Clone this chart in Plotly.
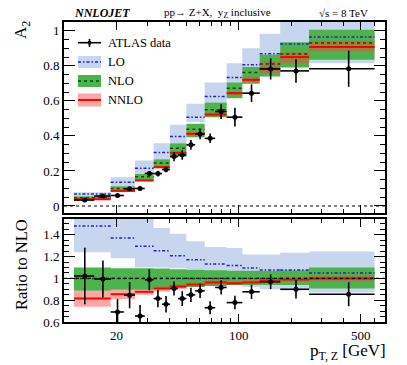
import plotly.graph_objects as go

# theory bins (GeV)
theory_edges = [11.4, 18.5, 25.5, 32.6, 40.4, 50.2, 63.9, 85.4, 105, 132, 173, 253, 600]

# upper panel: A2 predictions
lo_c = [0.069, 0.135, 0.215, 0.305, 0.396, 0.507, 0.625, 0.733, 0.806, 0.869, 0.924, 0.964]
lo_dn = [0.055, 0.110, 0.183, 0.267, 0.360, 0.480, 0.590, 0.700, 0.730, 0.760, 0.800, 0.815]
lo_up = [0.078, 0.164, 0.259, 0.358, 0.463, 0.583, 0.705, 0.815, 0.900, 0.983, 1.100, 1.120]
nlo_c = [0.047, 0.100, 0.167, 0.245, 0.330, 0.438, 0.549, 0.672, 0.762, 0.810, 0.867, 0.930]
nlo_dn = [0.037, 0.088, 0.148, 0.215, 0.282, 0.392, 0.507, 0.615, 0.697, 0.739, 0.790, 0.834]
nlo_up = [0.055, 0.112, 0.183, 0.267, 0.358, 0.469, 0.590, 0.705, 0.793, 0.863, 0.935, 1.006]
nnlo_c = [0.038, 0.086, 0.146, 0.222, 0.303, 0.412, 0.522, 0.644, 0.720, 0.783, 0.850, 0.907]
nnlo_dn = [0.034, 0.081, 0.140, 0.215, 0.295, 0.402, 0.512, 0.630, 0.705, 0.758, 0.815, 0.882]
nnlo_up = [0.041, 0.089, 0.150, 0.228, 0.312, 0.422, 0.532, 0.655, 0.738, 0.825, 0.878, 0.943]

# lower panel: ratio to NLO
r_lo_c = [1.48, 1.37, 1.296, 1.253, 1.207, 1.17, 1.133, 1.118, 1.096, 1.078, 1.078, 1.05]
r_lo_dn = [1.24, 1.185, 1.10, 1.10, 1.093, 1.08, 1.02, 0.95, 0.92, 0.90, 0.90, 0.87]
r_lo_up = [1.70, 1.70, 1.70, 1.463, 1.41, 1.34, 1.287, 1.28, 1.22, 1.22, 1.235, 1.247]
r_nlo_dn = [0.886, 0.895, 0.895, 0.905, 0.915, 0.92, 0.93, 0.94, 0.94, 0.94, 0.94, 0.907]
r_nlo_up = [1.10, 1.093, 1.093, 1.09, 1.085, 1.08, 1.075, 1.07, 1.07, 1.07, 1.075, 1.10]
r_nnlo_c = [0.815, 0.855, 0.877, 0.907, 0.926, 0.944, 0.963, 0.955, 0.963, 0.98, 0.99, 1.0]
r_nnlo_dn = [0.74, 0.81, 0.85, 0.88, 0.90, 0.925, 0.945, 0.94, 0.95, 0.96, 0.97, 0.97]
r_nnlo_up = [0.886, 0.895, 0.90, 0.925, 0.945, 0.96, 0.98, 0.975, 0.985, 1.0, 1.015, 1.03]

# ATLAS data
data_edges = [11.4, 14.9, 18.5, 22, 25.5, 29, 32.6, 36.4, 40.4, 44.9, 50.2, 56.4,
              63.9, 73.4, 85.4, 105, 132, 173, 253, 600]
data_a2 = [0.034, 0.057, 0.060, 0.098, 0.100, 0.186, 0.185, 0.208, 0.282, 0.291,
           0.349, 0.411, 0.386, 0.539, 0.507, 0.644, 0.782, 0.771, 0.783]
data_a2_err = [0.006, 0.006, 0.008, 0.009, 0.010, 0.014, 0.016, 0.016, 0.026, 0.027,
               0.028, 0.030, 0.027, 0.042, 0.053, 0.050, 0.060, 0.067, 0.103]
data_ratio = [1.022, 0.994, 0.692, 0.846, 0.655, 0.988, 0.815, 0.763, 0.907, 0.815,
              0.849, 0.886, 0.731, 0.917, 0.778, 0.877, 0.969, 0.90, 0.855]
data_ratio_err = [0.26, 0.17, 0.12, 0.12, 0.10, 0.096, 0.08, 0.075, 0.065, 0.068,
                  0.066, 0.065, 0.06, 0.065, 0.062, 0.065, 0.067, 0.085, 0.11]

LO_FILL = "#c7d5ee"
NLO_FILL = "#4db44d"
NNLO_FILL = "rgba(255,60,60,0.45)"
LO_LINE = "#2323b8"
NLO_LINE = "#0a4a0a"
NNLO_LINE = "#ff0000"
LO_DASH = "3px,2px,1.5px,2px"
FONT = "Liberation Serif, Times New Roman, Times, serif"

# plot frame in window pixels: x 64..385, y 22..322
L, R, T, B = 64, 385, 22, 322
W, H = 407, 365


def px(x):
    return (x - L) / (R - L)


def py(y):
    return (B - y) / (B - T)


def band_xy(edges, dn, up):
    xs, ys = [], []
    for i in range(len(dn)):
        a, b = edges[i], edges[i + 1]
        xs += [a, b, b, a, a, None]
        ys += [dn[i], dn[i], up[i], up[i], dn[i], None]
    return xs, ys


def step_xy(edges, vals):
    xs, ys = [], []
    for i in range(len(vals)):
        xs += [edges[i], edges[i + 1], None]
        ys += [vals[i], vals[i], None]
    return xs, ys


fig = go.Figure()


def add_panel(xa, ya, bands, lines, dval, derr):
    for dn, up, col in bands:
        bx, by = band_xy(theory_edges, dn, up)
        fig.add_trace(go.Scatter(x=bx, y=by, fill="toself", fillcolor=col, mode="none",
                                 xaxis=xa, yaxis=ya, showlegend=False, hoverinfo="skip"))
    for vals, col, dash, w in lines:
        lx, ly = step_xy(theory_edges, vals)
        fig.add_trace(go.Scatter(x=lx, y=ly, mode="lines", line=dict(color=col, dash=dash, width=w),
                                 xaxis=xa, yaxis=ya, showlegend=False, hoverinfo="skip"))
    cx = [(data_edges[i] + data_edges[i + 1]) / 2 for i in range(len(dval))]
    fig.add_trace(go.Scatter(
        x=cx, y=dval, mode="markers", marker=dict(color="black", size=5),
        error_x=dict(type="data", symmetric=False,
                     array=[data_edges[i + 1] - cx[i] for i in range(len(cx))],
                     arrayminus=[cx[i] - data_edges[i] for i in range(len(cx))],
                     color="black", thickness=1.6, width=0),
        error_y=dict(type="data", array=derr, color="black", thickness=1.6, width=0),
        xaxis=xa, yaxis=ya, showlegend=False, cliponaxis=True))


add_panel("x", "y",
          [(lo_dn, lo_up, LO_FILL), (nlo_dn, nlo_up, NLO_FILL), (nnlo_dn, nnlo_up, NNLO_FILL)],
          [(lo_c, LO_LINE, LO_DASH, 1.5), (nlo_c, NLO_LINE, "dot", 1.5), (nnlo_c, NNLO_LINE, "solid", 2)],
          data_a2, data_a2_err)
add_panel("x2", "y2",
          [(r_lo_dn, r_lo_up, LO_FILL), (r_nlo_dn, r_nlo_up, NLO_FILL), (r_nnlo_dn, r_nnlo_up, NNLO_FILL)],
          [(r_lo_c, LO_LINE, LO_DASH, 1.5), ([1.0] * 12, NLO_LINE, "dot", 1.5), (r_nnlo_c, NNLO_LINE, "solid", 2)],
          data_ratio, data_ratio_err)

minor_x = [v * m for m in (10, 100) for v in range(1, 10)] + [600, 700]
xcommon = dict(type="log", range=[1.0, 2.838], showline=True, linewidth=2, linecolor="black",
               mirror="allticks", ticks="inside", ticklen=8, tickwidth=1.2, tickcolor="black",
               tickvals=[20, 100, 500], showgrid=False, zeroline=False,
               minor=dict(tickvals=minor_x, ticks="inside", ticklen=4, tickcolor="black", tickwidth=1.2),
               tickfont=dict(family=FONT, size=13, color="black"))
ycommon = dict(showline=True, linewidth=2, linecolor="black", mirror="allticks", ticks="inside",
               ticklen=11, tickwidth=1.2, tickcolor="black", showgrid=False, zeroline=False,
               minor=dict(dtick=0.05, ticks="inside", ticklen=5, tickcolor="black", tickwidth=1.2),
               tickfont=dict(family=FONT, size=13, color="black"))

top_dom = [py(213), 1.0]
bot_dom = [0.0, py(219)]

fig.update_layout(
    width=W, height=H,
    margin=dict(l=L, r=W - R, t=T, b=H - B),
    paper_bgcolor="white", plot_bgcolor="white",
    font=dict(family=FONT, color="black"),
    xaxis=dict(xcommon, domain=[0, 1], anchor="y", showticklabels=False),
    yaxis=dict(ycommon, domain=top_dom, anchor="x", range=[-0.04, 1.05],
               tickvals=[0, 0.2, 0.4, 0.6, 0.8, 1], ticktext=["0", "0.2", "0.4", "0.6", "0.8", "1"]),
    xaxis2=dict(xcommon, domain=[0, 1], anchor="y2"),
    yaxis2=dict(ycommon, domain=bot_dom, anchor="x2", range=[0.6, 1.545],
                tickvals=[0.6, 0.8, 1.0, 1.2, 1.4], ticktext=["0.6", "0.8", "1", "1.2", "1.4"]),
    showlegend=False,
)

# reference lines
fig.add_shape(type="line", xref="x domain", yref="y", x0=0, x1=1, y0=0, y1=0,
              line=dict(color="black", dash="dot", width=1.2))
fig.add_shape(type="line", xref="x2 domain", yref="y2", x0=0, x1=1, y0=1, y1=1,
              line=dict(color="black", dash="dot", width=1.2))

# legend drawn by hand
leg_x0, leg_x1 = 78, 101
for y0, y1, fill, col, dash, w in [(56, 68, LO_FILL, LO_LINE, LO_DASH, 1.5),
                                    (75, 87, NLO_FILL, NLO_LINE, "dot", 1.5),
                                    (93.5, 106.5, "#ffa6a6", NNLO_LINE, "solid", 2)]:
    fig.add_shape(type="rect", xref="paper", yref="paper", x0=px(leg_x0), x1=px(leg_x1),
                  y0=py(y1), y1=py(y0), fillcolor=fill, line=dict(width=0))
    ym = py((y0 + y1) / 2)
    fig.add_shape(type="line", xref="paper", yref="paper", x0=px(leg_x0), x1=px(leg_x1),
                  y0=ym, y1=ym, line=dict(color=col, dash=dash, width=w))
fig.add_shape(type="line", xref="paper", yref="paper", x0=px(leg_x0), x1=px(leg_x1),
              y0=py(42.7), y1=py(42.7), line=dict(color="black", width=1.6))
fig.add_shape(type="line", xref="paper", yref="paper", x0=px(89.5), x1=px(89.5),
              y0=py(39), y1=py(47), line=dict(color="black", width=1.6))
fig.add_shape(type="circle", xref="paper", yref="paper", x0=px(87.5), x1=px(91.5),
              y0=py(44.7), y1=py(40.7), fillcolor="black", line=dict(width=0))

legend_labels = ["ATLAS data", "LO", "NLO", "NNLO"]
for lab, yy in zip(legend_labels, [43, 62, 81, 100]):
    fig.add_annotation(x=px(106), y=py(yy), xref="paper", yref="paper", text=lab,
                       showarrow=False, xanchor="left", yanchor="middle",
                       font=dict(family=FONT, size=12.5, color="black"))

# header
fig.add_annotation(x=px(72), y=py(13), xref="paper", yref="paper", text="<b><i>NNLOJET</i></b>",
                   showarrow=False, xanchor="left", yanchor="middle",
                   font=dict(family=FONT, size=12, color="black"))
fig.add_annotation(x=px(162), y=py(13), xref="paper", yref="paper",
                   text="pp\u2192 Z+X,  y<sub>Z</sub> inclusive",
                   showarrow=False, xanchor="left", yanchor="middle",
                   font=dict(family=FONT, size=11, color="black"))
fig.add_annotation(x=px(317), y=py(13), xref="paper", yref="paper", text="\u221as = 8 TeV",
                   showarrow=False, xanchor="left", yanchor="middle",
                   font=dict(family=FONT, size=11, color="black"))

# axis titles
fig.add_annotation(x=px(22), y=py(30), xref="paper", yref="paper", text="A<sub>2</sub>",
                   showarrow=False, textangle=-90, xanchor="center", yanchor="middle",
                   font=dict(family=FONT, size=17, color="black"))
fig.add_annotation(x=px(21), y=py(265), xref="paper", yref="paper", text="Ratio to NLO",
                   showarrow=False, textangle=-90, xanchor="center", yanchor="middle",
                   font=dict(family=FONT, size=16.5, color="black"))
fig.add_annotation(x=px(388), y=py(352), xref="paper", yref="paper",
                   text="p<sub>T, Z</sub> [GeV]",
                   showarrow=False, xanchor="right", yanchor="middle",
                   font=dict(family=FONT, size=17, color="black"))

# the page body has a default 8px margin; drop it so the figure fills the window
fig.write_html("out.html", config={"displayModeBar": False},
               post_script="document.body.style.margin='0';")
